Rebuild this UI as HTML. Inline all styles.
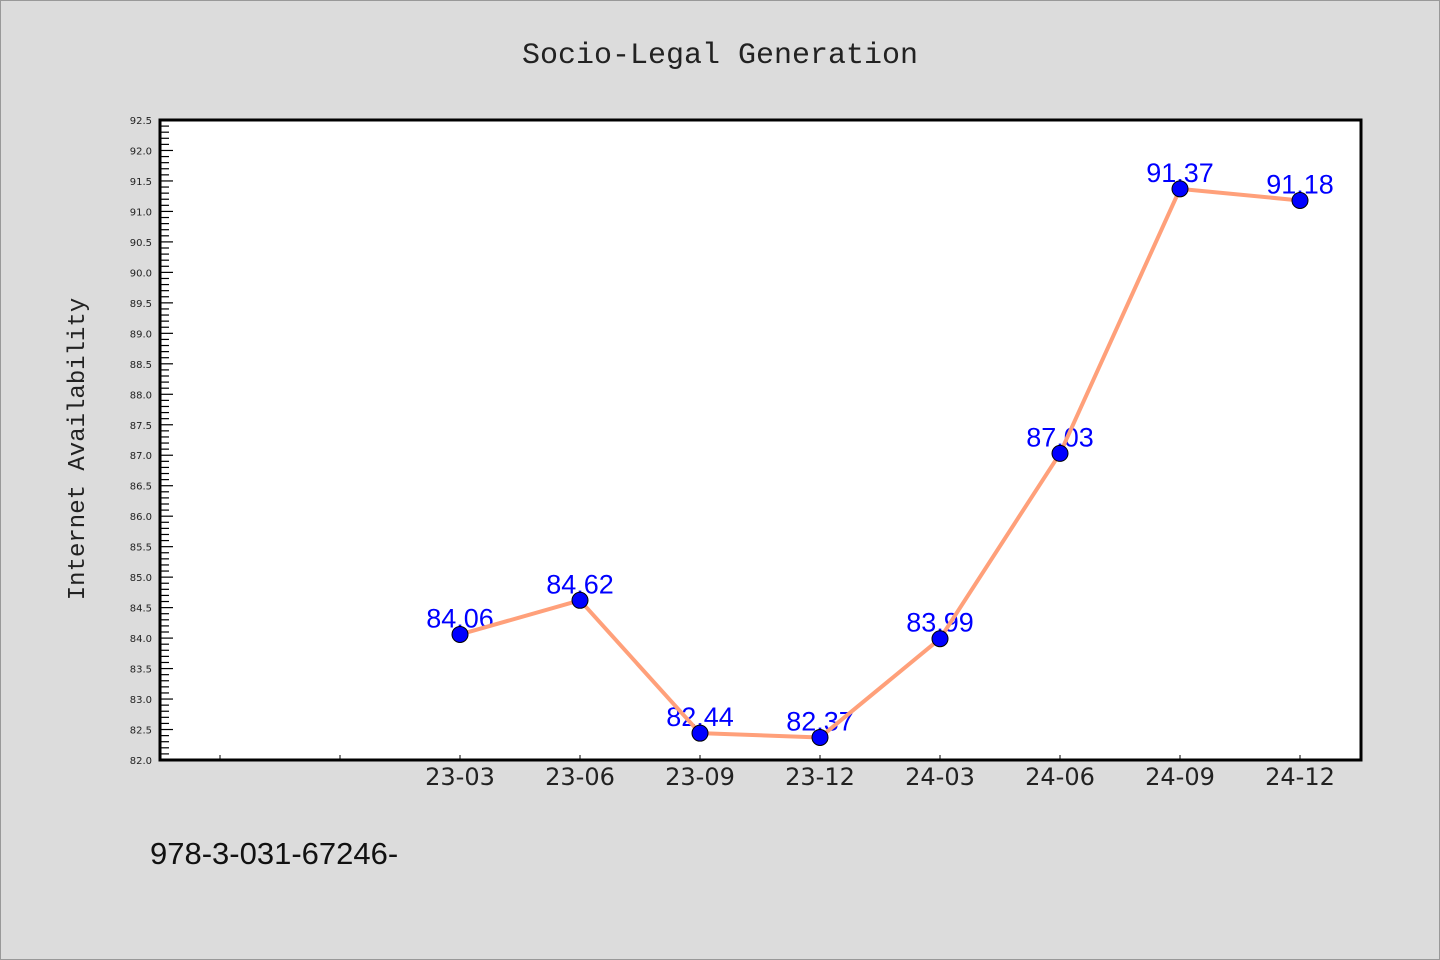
<!DOCTYPE html>
<html><head><meta charset="utf-8"><style>
html,body{margin:0;padding:0;background:#dcdcdc;}
svg{display:block;}
</style></head><body>
<svg width="1440" height="960" xmlns="http://www.w3.org/2000/svg">
<rect x="0.5" y="0.5" width="1439" height="959" fill="#dcdcdc" stroke="#999"/>
<text x="720" y="63" text-anchor="middle" font-family="Liberation Mono, monospace" font-size="30" fill="#222">Socio-Legal Generation</text>
<rect x="160" y="120" width="1201" height="640" fill="#fff"/>
<g id="yaxis"></g>
<g id="xaxis"></g>
<g id="labels"></g>
<g id="series"></g>
<rect x="160" y="120" width="1201" height="640" fill="none" stroke="#000" stroke-width="3"/>
<text transform="translate(84,449) rotate(-90)" text-anchor="middle" font-family="Liberation Mono, monospace" font-size="24" fill="#222">Internet Availability</text>
<text x="150" y="864" font-family="Liberation Sans, sans-serif" font-size="31" fill="#111">978-3-031-67246-</text>
</svg>
<script>
const categories = ["", "", "23-03","23-06","23-09","23-12","24-03","24-06","24-09","24-12"];
const values = [null, null, 84.06, 84.62, 82.44, 82.37, 83.99, 87.03, 91.37, 91.18];
const valueLabels = ["", "", "84.06","84.62","82.44","82.37","83.99","87.03","91.37","91.18"];
const yMin = 82.0, yMax = 92.5;
const NS = "http://www.w3.org/2000/svg";
const x = i => 220 + 120 * i;
const y = v => 760 - (v - yMin) / (yMax - yMin) * 640;
function mk(tag, attrs, parent){const e=document.createElementNS(NS,tag);for(const k in attrs)e.setAttribute(k,attrs[k]);parent.appendChild(e);return e;}
const ya = document.getElementById('yaxis');
for (let k = 0; k <= 105; k++) {
  const v = yMin + k * 0.1; const yy = y(v); const major = k % 5 === 0;
  const t = mk('line',{x1:160,x2:major?173:169,y1:yy,y2:yy,stroke:'#000','stroke-width':1.2},ya);
  
  
  if (major) {
    const tx = mk('text',{x:152,y:yy+4,'text-anchor':'end','font-family':'DejaVu Sans, sans-serif','font-size':10,fill:'#222'},ya);
    tx.textContent = v.toFixed(1);
    
    
  }
}
const xa = document.getElementById('xaxis');
categories.forEach((c,i)=>{
  const t = mk('line',{x1:x(i),x2:x(i),y1:760,y2:755,stroke:'#000','stroke-width':1},xa);
  
  
  if (c) {
    const tx = mk('text',{x:x(i),y:785,'text-anchor':'middle','font-family':'DejaVu Sans, sans-serif','font-size':24,fill:'#222'},xa);
    tx.textContent = c;
    
    
  }
});
const lb = document.getElementById('labels');
values.forEach((v,i)=>{ if (v===null) return;
  const tx = mk('text',{x:x(i),y:y(v)-7,'text-anchor':'middle','font-family':'Liberation Sans, sans-serif','font-size':27,fill:'#0000ff'},lb);
  tx.textContent = valueLabels[i];
  
  
});
const s = document.getElementById('series');
const pts = values.map((v,i)=>v===null?null:x(i)+','+y(v)).filter(p=>p);
const pl = mk('polyline',{points:pts.join(' '),fill:'none',stroke:'#ffa07a','stroke-width':4,'stroke-linejoin':'round'},s);


values.forEach((v,i)=>{ if (v===null) return;
  const c = mk('circle',{cx:x(i),cy:y(v),r:8,fill:'#0000ff',stroke:'#000','stroke-width':1},s);
  
  
});
</script>
</body></html>
